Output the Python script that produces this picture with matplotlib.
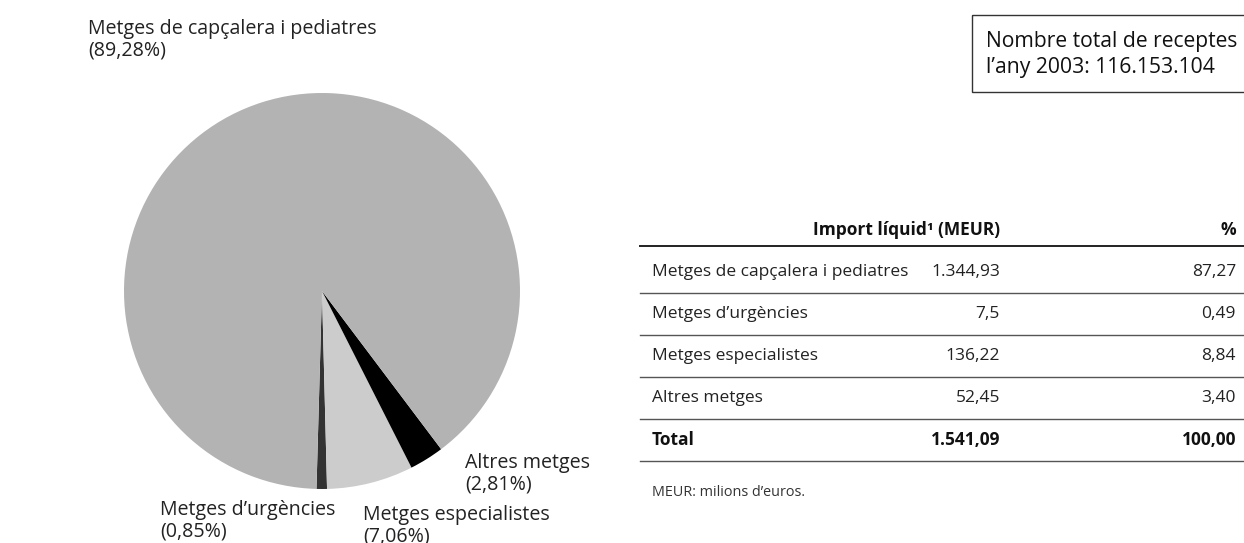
import matplotlib.pyplot as plt
from matplotlib.patches import Rectangle

plt.rcParams['font.family'] = ['Open Sans', 'DejaVu Sans']

# pie data (share of prescriptions, %)
slice_names = ['Metges d\u2019urgències', 'Metges especialistes', 'Altres metges',
               'Metges de capçalera i pediatres']
slice_pcts = [0.85, 7.06, 2.81, 89.28]
slice_colors = ['#333333', '#cccccc', '#000000', '#b3b3b3']

# table data (net amount)
row_names = ['Metges de capçalera i pediatres', 'Metges d\u2019urgències',
             'Metges especialistes', 'Altres metges']
row_meur = ['1.344,93', '7,5', '136,22', '52,45']
row_pct = ['87,27', '0,49', '8,84', '3,40']
total_meur = '1.541,09'
total_pct = '100,00'
total_receptes = '116.153.104'

W, H = 1244, 543
fig = plt.figure(figsize=(W / 100, H / 100), dpi=100)

# pie, centre at (322, 291) px, radius 198 px
cx, cy, r = 322, 291, 198
pax = fig.add_axes([(cx - r) / W, (H - cy - r) / H, 2 * r / W, 2 * r / H])
pax.pie(slice_pcts, colors=slice_colors, startangle=268.4, counterclock=True,
        radius=1, wedgeprops=dict(linewidth=0))
pax.set_xlim(-1, 1)
pax.set_ylim(-1, 1)
pax.set_aspect('equal')
pax.axis('off')

# overlay in pixel coords for labels and table
ax = fig.add_axes([0, 0, 1, 1])
ax.set_xlim(0, W)
ax.set_ylim(H, 0)
ax.axis('off')

fs_pie = 14.1
fs = 12.5


def pct_label(i):
    return '%s\n(%s%%)' % (slice_names[i], ('%.2f' % slice_pcts[i]).replace('.', ','))


lab_kw = dict(fontsize=fs_pie, va='top', ha='left', linespacing=1.12, color='#222222')
ax.text(88, 19, pct_label(3), **lab_kw)
ax.text(465, 453, pct_label(2), **lab_kw)
ax.text(160, 500, pct_label(0), **lab_kw)
ax.text(363, 505, pct_label(1), **lab_kw)

# info box (runs off the right edge)
ax.add_patch(Rectangle((972, 15), 300, 77, fill=False, edgecolor='#333333', linewidth=1.0,
                       clip_on=False))
ax.text(986, 42, 'Nombre total de receptes', fontsize=15.2, va='center', ha='left',
        color='#111111')
ax.text(986, 67, 'l\u2019any 2003: ' + total_receptes, fontsize=15.2, va='center', ha='left',
        color='#111111')

# table
x0, x1 = 640, W
col_label, col_meur, col_pct = 652, 1000, 1236
ax.text(col_meur, 230, 'Import líquid\u00b9 (MEUR)', fontsize=fs, fontweight='bold',
        ha='right', va='center', color='#111111')
ax.text(col_pct, 230, '%', fontsize=fs, fontweight='bold', ha='right', va='center',
        color='#111111')
ax.plot([x0, x1], [246, 246], color='#222222', lw=1.4)

row_y0, row_h = 272, 42
for i, name in enumerate(row_names):
    y = row_y0 + i * row_h
    ax.text(col_label, y, name, fontsize=fs, ha='left', va='center', color='#222222')
    ax.text(col_meur, y, row_meur[i], fontsize=fs, ha='right', va='center', color='#222222')
    ax.text(col_pct, y, row_pct[i], fontsize=fs, ha='right', va='center', color='#222222')
    ax.plot([x0, x1], [y + 21, y + 21], color='#555555', lw=1.0)

y = row_y0 + len(row_names) * row_h
ax.text(col_label, y, 'Total', fontsize=fs, fontweight='bold', ha='left', va='center',
        color='#111111')
ax.text(col_meur, y, total_meur, fontsize=fs, fontweight='bold', ha='right', va='center',
        color='#111111')
ax.text(col_pct, y, total_pct, fontsize=fs, fontweight='bold', ha='right', va='center',
        color='#111111')
ax.plot([x0, x1], [y + 21, y + 21], color='#555555', lw=1.0)

ax.text(652, 492, 'MEUR: milions d\u2019euros.', fontsize=10.4, ha='left', va='center',
        color='#333333')

fig.savefig('out.png', dpi=100, facecolor='white')
